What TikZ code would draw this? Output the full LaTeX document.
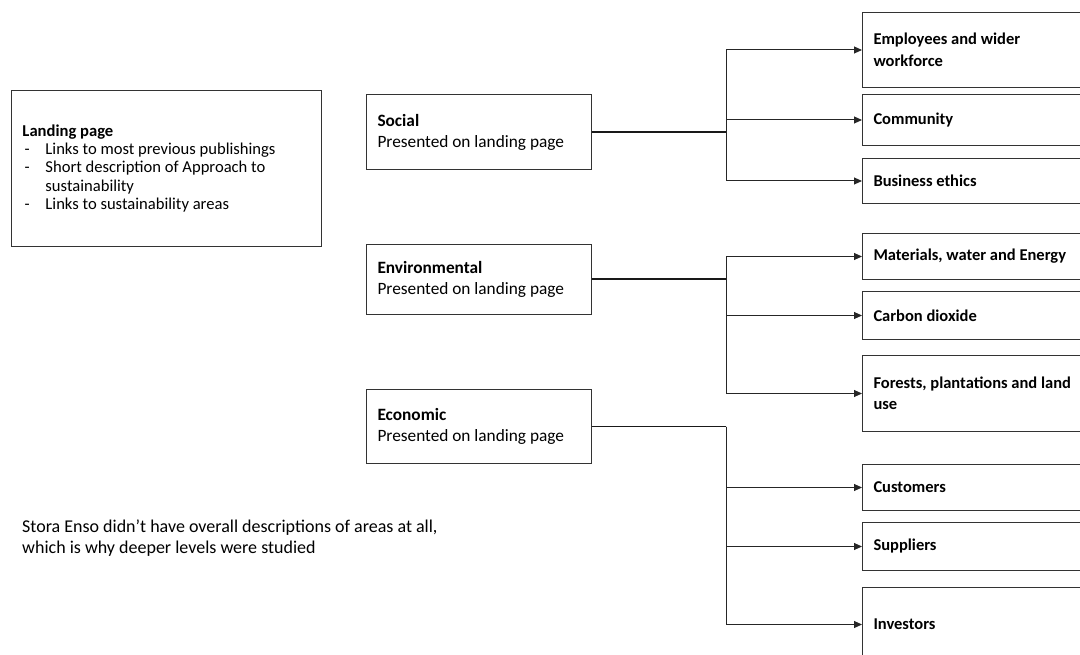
\documentclass[tikz,border=0pt]{standalone}
\usepackage{fontspec}
\setmainfont{Carlito}
\usetikzlibrary{arrows.meta,positioning}

\tikzset{
  areabox/.style={draw=black!80, line width=1pt, anchor=north west, align=flush left,
    inner xsep=11pt, inner ysep=0pt, text width=#1-22pt, minimum width=#1,
    font=\fontsize{17.3}{21}\selectfont},
  leafbox/.style={areabox=240pt, font=\bfseries\fontsize{16.5}{21.5}\selectfont},
  trunk/.style={line width=2pt, black!90},
  branch/.style={line width=1pt, black!85, -{Triangle[length=8pt,width=7pt]}}
}

\begin{document}
\begin{tikzpicture}[x=1pt,y=-1pt]
  \useasboundingbox (0,0) rectangle (1080,655);

  \node[areabox=310pt, minimum height=156pt, font=\fontsize{16.6}{18.4}\selectfont] (landing) at (11,90)
    {\textbf{Landing page}\\
     \hspace*{2pt}\makebox[21pt][l]{-}Links to most previous publishings\\
     \hspace*{2pt}\makebox[21pt][l]{-}Short description of Approach to\\
     \hspace*{23pt}sustainability\\
     \hspace*{2pt}\makebox[21pt][l]{-}Links to sustainability areas};

  \node[areabox=225pt, minimum height=75pt] (social) at (366,94)
    {\textbf{Social}\\Presented on landing page};
  \node[areabox=225pt, minimum height=70pt] (env) at (366,244)
    {\textbf{Environmental}\\Presented on landing page};
  \node[areabox=225pt, minimum height=74pt] (econ) at (366,389)
    {\textbf{Economic}\\Presented on landing page};

  \node[leafbox, minimum height=75pt] (employees) at (862,12) {Employees and wider\\workforce};
  \node[leafbox, minimum height=51pt] (community) at (862,94) {Community};
  \node[leafbox, minimum height=45pt] (ethics) at (862,158) {Business ethics};
  \node[leafbox, minimum height=46pt] (materials) at (862,233) {Materials, water and Energy};
  \node[leafbox, minimum height=48pt] (carbon) at (862,291) {Carbon dioxide};
  \node[leafbox, minimum height=76pt] (forests) at (862,355) {Forests, plantations and land\\use};
  \node[leafbox, minimum height=46pt] (customers) at (862,464) {Customers};
  \node[leafbox, minimum height=48pt] (suppliers) at (862,522) {Suppliers};
  \node[leafbox, minimum height=74pt] (investors) at (862,587) {Investors};

  \coordinate (split) at (726,0);

  \draw[trunk] (social.east) -- (social.east -| split);
  \foreach \leaf in {employees,community,ethics}
    \draw[branch] (social.east -| split) |- (\leaf.west);

  \draw[trunk] (env.east) -- (env.east -| split);
  \foreach \leaf in {materials,carbon,forests}
    \draw[branch] (env.east -| split) |- (\leaf.west);

  \draw[line width=1.2pt, black!90] (econ.east) -- (econ.east -| split);
  \foreach \leaf in {customers,suppliers,investors}
    \draw[branch] (econ.east -| split) |- (\leaf.west);

  \node[anchor=north west, align=left, inner sep=0pt, font=\fontsize{18}{20.5}\selectfont] (note) at (22,520)
    {Stora Enso didn’t have overall descriptions of areas at all,\\which is why deeper levels were studied};
\end{tikzpicture}
\end{document}
